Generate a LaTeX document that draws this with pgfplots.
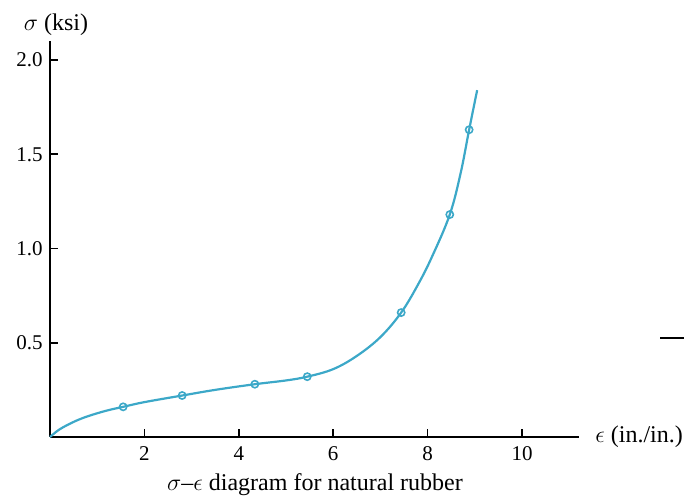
\documentclass[border=0pt]{standalone}
\usepackage{pgfplots}
\pgfplotsset{compat=1.18}
\usepackage{fontspec}
\setmainfont{Liberation Serif}
\definecolor{curve}{RGB}{60,168,200}
\begin{document}
\begin{tikzpicture}[x=0.5pt,y=0.5pt]
\fontsize{10.5}{12}\selectfont
\path[use as bounding box] (0,0) rectangle (684,496);
\begin{axis}[at={(25pt,29.5pt)},anchor=south west,
  x=23.6pt, y=94.25pt,
  axis lines=left, axis line style={-, line width=0.9pt},
  xmin=0, xmax=11.2, ymin=0, ymax=2.1,
  xtick={2,4,6,8,10}, ytick={0.5,1.0,1.5,2.0},
  tick align=inside, major tick length=4pt,
  tick style={line width=0.8pt, black},
  yticklabel style={/pgf/number format/fixed,/pgf/number format/fixed zerofill,/pgf/number format/precision=1},
  xticklabel style={yshift=-1pt},
  /pgf/number format/assume math mode=true,
  ticklabel style={font=\fontsize{10.5}{12}\selectfont},
  clip=false]
\addplot[curve, line width=1.1pt, smooth, tension=0.6] coordinates {
(0,0) (0.2,0.04) (0.5,0.08) (0.8,0.11) (1.2,0.14) (1.55,0.16) (2.0,0.185)
(2.8,0.22) (3.5,0.25) (4.34,0.28) (5.0,0.30) (5.45,0.32) (6.0,0.36)
(6.5,0.43) (7.0,0.53) (7.44,0.66) (7.8,0.81) (8.1,0.96)
(8.47,1.18) (8.7,1.40) (8.88,1.63) (9.05,1.84)};
\addplot[curve, only marks, mark=o, mark size=1.8pt, line width=0.8pt] coordinates {
(1.55,0.16) (2.8,0.22) (4.34,0.28) (5.45,0.32) (7.44,0.66) (8.47,1.18) (8.88,1.63)};
\end{axis}
\node[font=\fontsize{12}{14}\selectfont] at (56,471) {$\sigma$ (ksi)};
\node[anchor=west,font=\fontsize{12}{14}\selectfont] at (588,59) {$\epsilon$ (in./in.)};
\node[font=\fontsize{12}{14}\selectfont] at (315,11) {$\sigma$--$\epsilon$ diagram for natural rubber};
\draw[line width=1pt] (660,158) -- (684,158);
\end{tikzpicture}
\end{document}
